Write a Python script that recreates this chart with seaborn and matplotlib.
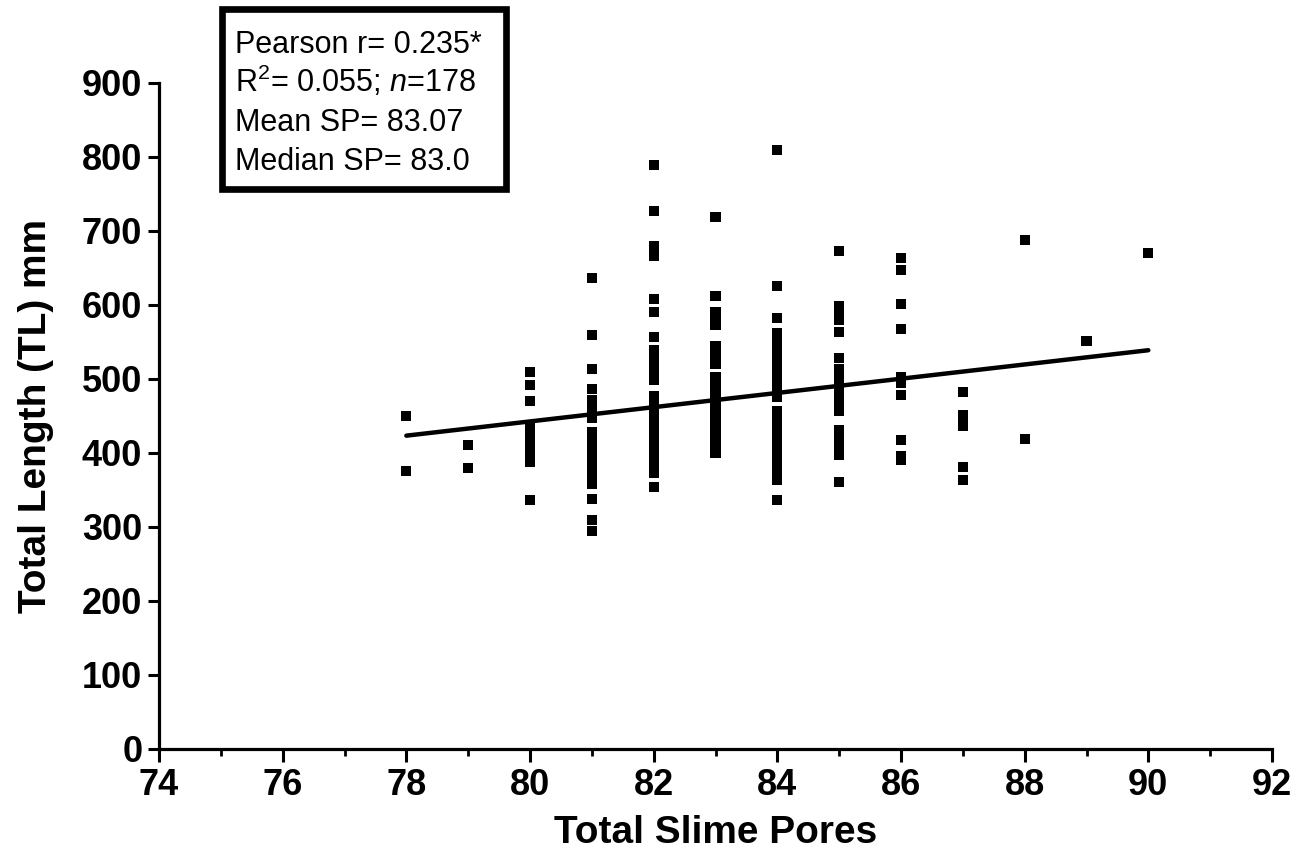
import numpy as np
import pandas as pd
import matplotlib
matplotlib.use("Agg")
import matplotlib.pyplot as plt
from matplotlib.patches import Rectangle
from matplotlib.ticker import MultipleLocator
import seaborn as sns

# Total length (mm) of each specimen, grouped by its total slime-pore count
tl_78 = [450, 376]
tl_79 = [411, 380]
tl_80 = [510, 492, 470, 438, 436, 430, 428, 424, 418, 410, 402, 396, 388, 337]
tl_81 = [636, 560, 514, 486, 472, 470, 466, 462, 460, 455, 452, 450, 447, 428,
         420, 412, 404, 396, 388, 380, 372, 364, 358, 338, 310, 295]
tl_82 = [789, 727, 680, 666, 608, 590, 557, 539, 527, 518, 512, 508, 504, 499,
         477, 472, 468, 462, 458, 452, 449, 444, 436, 428, 420, 412, 408, 404,
         396, 388, 380, 373, 354]
tl_83 = [719, 612, 590, 580, 573, 545, 536, 528, 520, 503, 498, 490, 482, 474,
         466, 458, 450, 442, 429, 420, 415, 410, 405, 400]
tl_84 = [809, 626, 582, 562, 554, 546, 538, 530, 522, 514, 506, 498, 490, 482,
         476, 457, 455, 445, 440, 433, 430, 423, 418, 412, 405, 400, 396, 392,
         385, 384, 380, 373, 364, 337]
tl_85 = [673, 599, 588, 580, 563, 529, 513, 504, 495, 483, 475, 466, 457, 431,
         430, 420, 414, 412, 406, 402, 400, 397, 361]
tl_86 = [663, 647, 601, 568, 503, 494, 479, 418, 396, 390]
tl_87 = [483, 452, 443, 436, 381, 364]
tl_88 = [688, 419]
tl_89 = [551]
tl_90 = [670]

pore_counts = [78, 79, 80, 81, 82, 83, 84, 85, 86, 87, 88, 89, 90]
lengths = [tl_78, tl_79, tl_80, tl_81, tl_82, tl_83, tl_84, tl_85, tl_86,
           tl_87, tl_88, tl_89, tl_90]

stats_lines = ["Pearson r= 0.235*",
               r"R$^{2}$= 0.055; $\mathit{n}$=178",
               "Mean SP= 83.07",
               "Median SP= 83.0"]

x_ticks = list(range(74, 93, 2))
y_ticks = list(range(0, 901, 100))

df = pd.DataFrame({
    "pores": np.concatenate([[p] * len(v) for p, v in zip(pore_counts, lengths)]),
    "tl": np.concatenate(lengths),
})

sns.set_style("ticks")
plt.rcParams["font.family"] = ["Liberation Sans", "DejaVu Sans"]
plt.rcParams["mathtext.fontset"] = "custom"
plt.rcParams["mathtext.rm"] = "Liberation Sans"
plt.rcParams["mathtext.it"] = "Liberation Sans:italic"
plt.rcParams["text.color"] = "black"
plt.rcParams["axes.labelcolor"] = "black"
plt.rcParams["xtick.color"] = "black"
plt.rcParams["ytick.color"] = "black"

fig = plt.figure(figsize=(13.07, 8.58), dpi=100)
ax = fig.add_axes([159 / 1307, 1 - 749 / 858, (1272 - 159) / 1307, (749 - 83) / 858])

sns.scatterplot(data=df, x="pores", y="tl", marker="s", s=52, color="black",
                edgecolor="none", linewidth=0, ax=ax, zorder=3)
sns.regplot(data=df, x="pores", y="tl", scatter=False, ci=None, truncate=True,
            color="black", line_kws={"linewidth": 3.2, "solid_capstyle": "round"},
            ax=ax)

ax.set_xlim(74, 92)
ax.set_ylim(0, 900)
ax.set_xticks(x_ticks)
ax.set_yticks(y_ticks)
ax.xaxis.set_minor_locator(MultipleLocator(1))
for sp in ["top", "right"]:
    ax.spines[sp].set_visible(False)
for sp in ["left", "bottom"]:
    ax.spines[sp].set_linewidth(2.3)
    ax.spines[sp].set_color("black")

ax.tick_params(axis="x", which="major", direction="out", length=9, width=2.2, pad=5)
ax.tick_params(axis="x", which="minor", direction="out", length=5, width=2.0)
ax.tick_params(axis="y", which="major", direction="out", length=8, width=2.2, pad=4)

for lab in ax.get_xticklabels() + ax.get_yticklabels():
    lab.set_fontweight("bold")
    lab.set_fontsize(26)
    lab.set_color("black")

ax.set_xlabel("Total Slime Pores", fontsize=28, fontweight="bold", labelpad=8)
ax.set_ylabel("Total Length (TL) mm", fontsize=28, fontweight="bold", labelpad=20)

# statistics box in the upper-left corner
fig.patches.append(Rectangle((222 / 1307, 1 - 189 / 858), (284) / 1307, (180) / 858,
                             transform=fig.transFigure, fill=False,
                             edgecolor="black", linewidth=4.8, zorder=5))
for i, line in enumerate(stats_lines):
    fig.text(235 / 1307, 1 - (53 + 39 * i) / 858, line, fontsize=22,
             ha="left", va="baseline", color="black")

fig.savefig("out.png", dpi=100)
